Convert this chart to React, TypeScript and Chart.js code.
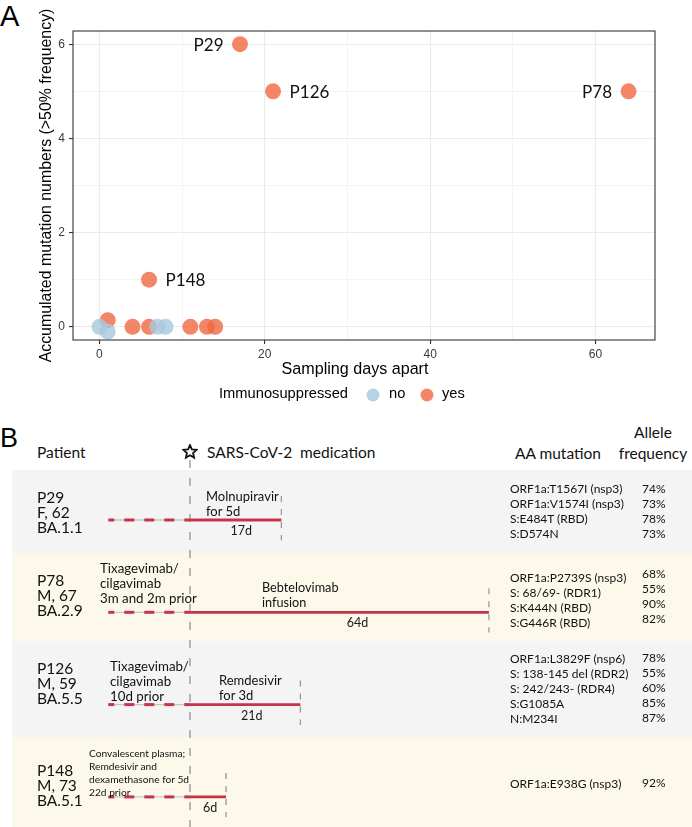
import React, { useEffect, useRef } from 'react';
import { Chart, registerables, LinearScale } from 'chart.js';

// ---------------- Panel A data ----------------
const immunoNoDays = [0, 1, 7, 8];
const immunoNoMutations = [0, -0.1, 0, 0];
const immunoYesDays = [17, 21, 64, 6, 1, 4, 6, 11, 13, 14];
const immunoYesMutations = [6, 5, 5, 1, 0.14, 0, 0, 0, 0, 0];
const immunoYesLabels = ['P29', 'P126', 'P78', 'P148', '', '', '', '', '', ''];
const immunoYesLabelSide = [-1, 1, -1, 1, 0, 0, 0, 0, 0, 0];
const xTickValues = [0, 20, 40, 60];
const yTickValues = [0, 2, 4, 6];
const xAxisTitle = 'Sampling days apart';
const yAxisTitle = 'Accumulated mutation numbers (>50% frequency)';
const legendTitle = 'Immunosuppressed';
const legendNo = 'no';
const legendYes = 'yes';

// ---------------- Panel B data ----------------
const patientIds = ['P29', 'P78', 'P126', 'P148'];
const patientSexAge = ['F, 62', 'M, 67', 'M, 59', 'M, 73'];
const patientLineage = ['BA.1.1', 'BA.2.9', 'BA.5.5', 'BA.5.1'];
const followUpDays = [17, 64, 21, 6];
const priorStartDay = -15;
const priorTreatment = [
  [],
  ['Tixagevimab/', 'cilgavimab', '3m and 2m prior'],
  ['Tixagevimab/', 'cilgavimab', '10d prior'],
  ['Convalescent plasma;', 'Remdesivir and', 'dexamethasone for 5d', '22d prior'],
];
const medication = [['Molnupiravir', 'for 5d'], ['Bebtelovimab', 'infusion'], ['Remdesivir', 'for 3d'], []];
const aaMutations = [
  ['ORF1a:T1567I (nsp3)', 'ORF1a:V1574I (nsp3)', 'S:E484T (RBD)', 'S:D574N'],
  ['ORF1a:P2739S (nsp3)', 'S: 68/69- (RDR1)', 'S:K444N (RBD)', 'S:G446R (RBD)'],
  ['ORF1a:L3829F (nsp6)', 'S: 138-145 del (RDR2)', 'S: 242/243- (RDR4)', 'S:G1085A', 'N:M234I'],
  ['ORF1a:E938G (nsp3)'],
];
const alleleFrequency = [[74, 73, 78, 73], [68, 55, 90, 82], [78, 55, 60, 85, 87], [92]];

// ---------------- layout / style ----------------
const ORANGE = 'rgba(240,104,65,0.8)';
const BLUE = 'rgba(166,201,221,0.8)';
const RED = '#C4344A';
const SANS_A = '"Liberation Sans", Arial, sans-serif';
const SANS_B = 'Lato, "Noto Sans", sans-serif';
const X_TITLE_WIDTH = 147;
const Y_TITLE_LENGTH = 354;

const rowTop = [470, 553, 641, 737];
const rowBottom = [553, 641, 737, 827];
const rowBg = ['#f4f4f4', '#fdf9ea', '#f4f4f4', '#fdf9ea'];
const patientY = [497, 580, 668, 770];
const mutY = [488, 577, 658, 783];
const freqY = [488, 573, 657, 782];
const priorPos = [
  { left: 0, y: 0, lh: 15, size: 13 },
  { left: 100, y: 568, lh: 15, size: 13.3 },
  { left: 110, y: 666, lh: 15, size: 13.3 },
  { left: 89, y: 753, lh: 13, size: 10.2 },
];
const medPos = [
  { left: 206, y: 496, size: 13 },
  { left: 262, y: 587, size: 12.7 },
  { left: 219, y: 680, size: 13 },
  { left: 0, y: 0, size: 13 },
];

class PowScale extends LinearScale {
  static id = 'pow';
  static defaults = LinearScale.defaults;
  pf(v: number) {
    const p = (this.options as any).exponent ?? 1;
    return Math.sign(v) * Math.pow(Math.abs(v), p);
  }
  pi(t: number) {
    const p = (this.options as any).exponent ?? 1;
    return Math.sign(t) * Math.pow(Math.abs(t), 1 / p);
  }
  getPixelForValue(v: number) {
    const a = this.pf(this.min);
    const b = this.pf(this.max);
    return this.getPixelForDecimal((this.pf(v) - a) / (b - a));
  }
  getValueForPixel(px: number) {
    const a = this.pf(this.min);
    const b = this.pf(this.max);
    return this.pi(a + this.getDecimalForPixel(px) * (b - a));
  }
}

Chart.register(...registerables, PowScale as any);

const minorBetween = (arr: number[]) => arr.slice(1).map((v, i) => (v + arr[i]) / 2);
const allX = [...xTickValues, ...minorBetween(xTickValues)].sort((a, b) => a - b);
const allY = [...yTickValues, ...minorBetween(yTickValues)].sort((a, b) => a - b);

function fitFont(ctx: CanvasRenderingContext2D, text: string, family: string, target: number) {
  ctx.font = `16px ${family}`;
  const w = ctx.measureText(text).width || 1;
  const size = Math.max(12, Math.min(20, (16 * target) / w));
  ctx.font = `${size.toFixed(2)}px ${family}`;
}

const panelAPlugin = {
  id: 'panelAExtras',
  afterDraw(chart: any) {
    const { ctx, chartArea: a } = chart;
    ctx.save();
    ctx.strokeStyle = '#333';
    ctx.lineWidth = 1.1;
    ctx.strokeRect(a.left, a.top, a.right - a.left, a.bottom - a.top);

    const yesIndex = chart.data.datasets.findIndex((d: any) => d.label === legendYes);
    const noIndex = chart.data.datasets.findIndex((d: any) => d.label === legendNo);
    const meta = chart.getDatasetMeta(yesIndex);
    ctx.font = `17px ${SANS_B}`;
    ctx.fillStyle = '#111';
    ctx.textBaseline = 'middle';
    immunoYesLabels.forEach((lab, i) => {
      if (!lab) return;
      const el = meta.data[i];
      const side = immunoYesLabelSide[i];
      ctx.textAlign = side < 0 ? 'right' : 'left';
      ctx.fillText(lab, el.x + side * 16.5, el.y + 1);
    });

    ctx.fillStyle = '#000';
    ctx.textAlign = 'center';
    fitFont(ctx, xAxisTitle, SANS_A, X_TITLE_WIDTH);
    ctx.fillText(xAxisTitle, (a.left + a.right) / 2 - 9, a.bottom + 30);
    ctx.save();
    ctx.translate(a.left - 26, (a.top + a.bottom) / 2);
    ctx.rotate(-Math.PI / 2);
    fitFont(ctx, yAxisTitle, SANS_A, Y_TITLE_LENGTH);
    ctx.fillText(yAxisTitle, 0, 0);
    ctx.restore();

    // legend
    const ly = a.bottom + 54;
    ctx.font = `14.7px ${SANS_A}`;
    ctx.textAlign = 'left';
    ctx.fillText(legendTitle, 219, ly);
    ctx.fillStyle = chart.data.datasets[noIndex].backgroundColor;
    ctx.beginPath();
    ctx.arc(373, ly + 1, 6.5, 0, Math.PI * 2);
    ctx.fill();
    ctx.fillStyle = chart.data.datasets[yesIndex].backgroundColor;
    ctx.beginPath();
    ctx.arc(427, ly + 1, 6.5, 0, Math.PI * 2);
    ctx.fill();
    ctx.fillStyle = '#000';
    ctx.fillText(legendNo, 389, ly);
    ctx.fillText(legendYes, 442, ly);
    ctx.restore();
  },
};

function PanelA() {
  const ref = useRef<HTMLCanvasElement>(null);
  useEffect(() => {
    const isMajorX = (c: any) => c.tick && xTickValues.includes(c.tick.value);
    const isMajorY = (c: any) => c.tick && yTickValues.includes(c.tick.value);
    const chart = new Chart(ref.current as HTMLCanvasElement, {
      type: 'scatter',
      data: {
        // first dataset is drawn on top by Chart.js
        datasets: [
          {
            label: legendNo,
            data: immunoNoDays.map((x, i) => ({ x, y: immunoNoMutations[i] })),
            backgroundColor: BLUE,
            borderWidth: 0,
            pointRadius: 8,
            pointHoverRadius: 8,
          },
          {
            label: legendYes,
            data: immunoYesDays.map((x, i) => ({ x, y: immunoYesMutations[i] })),
            backgroundColor: ORANGE,
            borderWidth: 0,
            pointRadius: 8,
            pointHoverRadius: 8,
          },
        ],
      },
      options: {
        animation: false,
        responsive: false,
        maintainAspectRatio: false,
        events: [],
        layout: { padding: { top: 31, right: 37, left: 0, bottom: 0 }, autoPadding: false },
        plugins: { legend: { display: false }, tooltip: { enabled: false } },
        scales: {
          x: {
            type: 'linear',
            min: -3.2,
            max: 67.2,
            afterFit: (s: any) => {
              s.height = 70;
            },
            afterBuildTicks: (s: any) => {
              s.ticks = allX.map((v) => ({ value: v }));
            },
            ticks: {
              autoSkip: false,
              maxRotation: 0,
              padding: 3,
              color: '#3a3a3a',
              font: { family: SANS_A, size: 12 },
              callback: (v: any) => (xTickValues.includes(Number(v)) ? String(v) : ''),
            },
            grid: {
              color: '#ebebeb',
              lineWidth: (c: any) => (isMajorX(c) ? 1.1 : 0.55),
              tickColor: (c: any) => (isMajorX(c) ? '#333' : 'rgba(0,0,0,0)'),
              tickLength: 4,
              tickWidth: 1.1,
            },
            border: { display: false },
          },
          y: {
            type: 'linear',
            min: -0.28,
            max: 6.28,
            afterFit: (s: any) => {
              s.width = 73;
            },
            afterBuildTicks: (s: any) => {
              s.ticks = allY.map((v) => ({ value: v }));
            },
            ticks: {
              autoSkip: false,
              padding: 4,
              color: '#3a3a3a',
              font: { family: SANS_A, size: 12 },
              callback: (v: any) => (yTickValues.includes(Number(v)) ? String(v) : ''),
            },
            grid: {
              color: '#ebebeb',
              lineWidth: (c: any) => (isMajorY(c) ? 1.1 : 0.55),
              tickColor: (c: any) => (isMajorY(c) ? '#333' : 'rgba(0,0,0,0)'),
              tickLength: 4,
              tickWidth: 1.1,
            },
            border: { display: false },
          },
        },
      } as any,
      plugins: [panelAPlugin],
    });
    return () => chart.destroy();
  }, []);
  return (
    <canvas
      ref={ref}
      width={692}
      height={410}
      style={{ position: 'absolute', left: 0, top: 0, width: 692, height: 410 }}
    />
  );
}

const B_TOP = 460;
const B_HEIGHT = 367;
const ROW_MIN = -0.65;
const ROW_MAX = 3.326;

const durationPlugin = {
  id: 'durationLabels',
  afterDatasetsDraw(chart: any) {
    const { ctx } = chart;
    const xs = chart.scales.x;
    const ys = chart.scales.y;
    ctx.save();
    ctx.font = `12.5px ${SANS_B}`;
    ctx.fillStyle = '#1a1a1a';
    ctx.textAlign = 'center';
    ctx.textBaseline = 'middle';
    followUpDays.forEach((d, i) => {
      const x0 = xs.getPixelForValue(0);
      const x1 = xs.getPixelForValue(d);
      ctx.fillText(`${d}d`, x0 + 0.56 * (x1 - x0), ys.getPixelForValue(i) + 11);
    });
    ctx.restore();
  },
};

function PanelBChart() {
  const ref = useRef<HTMLCanvasElement>(null);
  useEffect(() => {
    // listed bottom-to-top; reversed below because Chart.js paints the first dataset last
    const layers: any[] = [
      {
        data: [
          { x: 0, y: ROW_MIN },
          { x: 0, y: ROW_MAX },
        ],
        borderColor: '#8a8a8a',
        borderWidth: 1.2,
        borderDash: [8, 10],
      },
    ];
    patientIds.forEach((_, i) => {
      const prior = [
        { x: priorStartDay, y: i },
        { x: 0, y: i },
      ];
      layers.push({ data: prior, borderColor: '#c6c6c6', borderWidth: 1.3 });
      layers.push({ data: prior, borderColor: RED, borderWidth: 3, borderDash: [10, 10], borderDashOffset: 4 });
      layers.push({
        data: [
          { x: followUpDays[i], y: i - 0.26 },
          { x: followUpDays[i], y: i + 0.22 },
        ],
        borderColor: '#9a9a9a',
        borderWidth: 1.3,
        borderDash: [6, 7],
      });
      layers.push({
        data: [
          { x: 0, y: i },
          { x: followUpDays[i], y: i },
        ],
        borderColor: RED,
        borderWidth: 2.8,
      });
    });
    layers.forEach((d) => {
      d.showLine = true;
      d.pointRadius = 0;
      d.pointHoverRadius = 0;
      d.borderCapStyle = 'butt';
      d.fill = false;
    });
    const datasets = layers.slice().reverse();
    const chart = new Chart(ref.current as HTMLCanvasElement, {
      type: 'scatter',
      data: { datasets },
      options: {
        animation: false,
        responsive: false,
        maintainAspectRatio: false,
        events: [],
        layout: { padding: 0, autoPadding: false },
        plugins: { legend: { display: false }, tooltip: { enabled: false } },
        scales: {
          x: { type: 'pow', exponent: 0.894, min: -38.55, max: 114.29, display: false },
          y: { type: 'linear', reverse: true, min: ROW_MIN, max: ROW_MAX, display: false },
        },
      } as any,
      plugins: [durationPlugin],
    });
    return () => chart.destroy();
  }, []);
  return (
    <canvas
      ref={ref}
      width={692}
      height={B_HEIGHT}
      style={{ position: 'absolute', left: 0, top: B_TOP, width: 692, height: B_HEIGHT }}
    />
  );
}

function Lines(props: { left: number; y: number; lh: number; size: number; lines: string[]; align?: any; width?: number }) {
  const { left, y, lh, size, lines, align, width } = props;
  return (
    <div
      style={{
        position: 'absolute',
        left,
        top: y - lh / 2,
        width: width,
        fontFamily: SANS_B,
        fontSize: size,
        lineHeight: `${lh}px`,
        whiteSpace: 'pre',
        color: '#111',
        textAlign: align || 'left',
      }}
    >
      {lines.map((t, i) => (
        <div key={i}>{t}</div>
      ))}
    </div>
  );
}

function Star() {
  const pts: string[] = [];
  for (let k = 0; k < 10; k++) {
    const r = k % 2 === 0 ? 7 : 3.2;
    const ang = -Math.PI / 2 + (k * Math.PI) / 5;
    pts.push(`${(8 + r * Math.cos(ang)).toFixed(2)},${(8 + r * Math.sin(ang)).toFixed(2)}`);
  }
  return (
    <svg width={16} height={16} style={{ position: 'absolute', left: 182, top: 444 }}>
      <polygon points={pts.join(' ')} fill="none" stroke="#111" strokeWidth={1.8} strokeLinejoin="miter" />
    </svg>
  );
}

function PanelB() {
  return (
    <>
      {rowTop.map((t, i) => (
        <div
          key={`bg${i}`}
          style={{ position: 'absolute', left: 12, top: t, width: 692 - 12, height: rowBottom[i] - t, background: rowBg[i] }}
        />
      ))}
      <div style={{ position: 'absolute', left: 0, top: 420, fontFamily: SANS_A, fontSize: 27, lineHeight: '36px', color: '#000' }}>B</div>
      <Lines left={37} y={452} lh={20} size={15.5} lines={['Patient']} />
      <Star />
      <Lines left={207} y={452} lh={20} size={15.5} lines={['SARS-CoV-2  medication']} />
      <Lines left={515} y={453} lh={20} size={15.5} lines={['AA mutation']} />
      <Lines left={613} width={80} align="center" y={432} lh={21} size={15.5} lines={['Allele', 'frequency']} />
      <PanelBChart />
      {patientIds.map((p, i) => (
        <Lines key={`p${i}`} left={37} y={patientY[i]} lh={15} size={15.5} lines={[p, patientSexAge[i], patientLineage[i]]} />
      ))}
      {priorTreatment.map((lines, i) =>
        lines.length ? (
          <Lines key={`pr${i}`} left={priorPos[i].left} y={priorPos[i].y} lh={priorPos[i].lh} size={priorPos[i].size} lines={lines} />
        ) : null
      )}
      {medication.map((lines, i) =>
        lines.length ? (
          <Lines key={`m${i}`} left={medPos[i].left} y={medPos[i].y} lh={15} size={medPos[i].size} lines={lines} />
        ) : null
      )}
      {aaMutations.map((lines, i) => (
        <Lines key={`aa${i}`} left={510} y={mutY[i]} lh={15} size={12} lines={lines} />
      ))}
      {alleleFrequency.map((vals, i) => (
        <Lines key={`af${i}`} left={642} y={freqY[i]} lh={15} size={12} lines={vals.map((v) => `${v}%`)} />
      ))}
    </>
  );
}

export default function App() {
  return (
    <div style={{ position: 'absolute', left: 0, top: 0, width: 692, height: 827, overflow: 'hidden', background: '#fff' }}>
      <div style={{ position: 'absolute', left: 0, top: -2, fontFamily: SANS_A, fontSize: 29, lineHeight: '36px', color: '#000' }}>A</div>
      <PanelA />
      <PanelB />
    </div>
  );
}
